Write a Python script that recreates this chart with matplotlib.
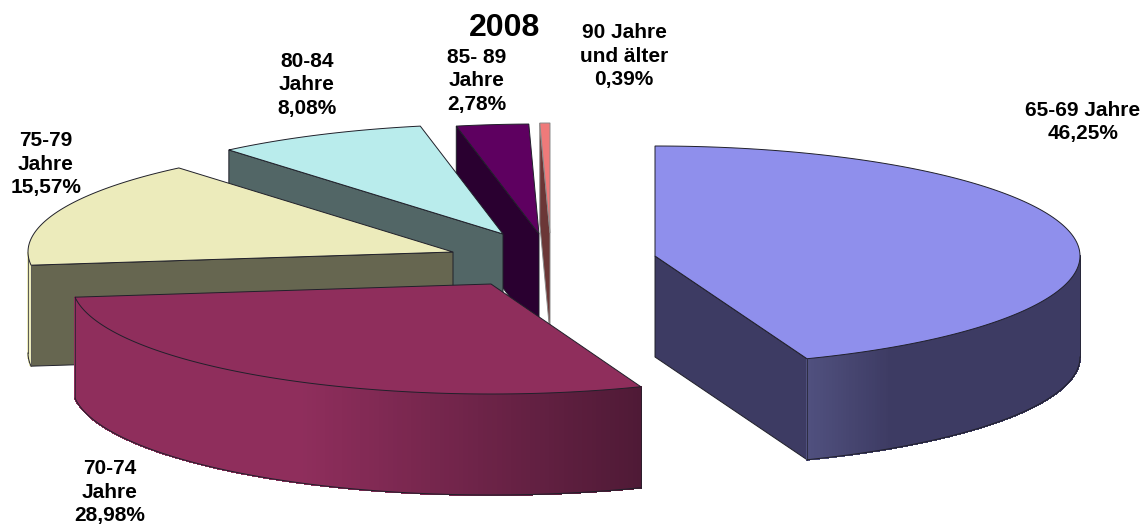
import numpy as np
import matplotlib
matplotlib.use('Agg')
import matplotlib.pyplot as plt
from matplotlib.colors import to_rgb
from matplotlib.patches import Polygon

# data
ages = ['65-69 Jahre', '70-74\nJahre', '75-79\nJahre', '80-84\nJahre', '85- 89\nJahre', '90 Jahre\nund älter']
shares = [46.25, 28.98, 15.57, 8.08, 2.78, 0.39]
year = '2008'

# look of each slice
top_colors = ['#8f8fec', '#8f2e5c', '#ecebbb', '#b9ecec', '#5e0060', '#ef7a7a']
face_colors = ['#3d3b63', '#8f2e5c', '#666650', '#526666', '#2a0030', '#6b3636']
rim_colors = [('#50507e', '#3d3b63'), ('#8f2e5c', '#4f1a36'), ('#ecebbb', '#ecebbb'),
              ('#526666', '#526666'), ('#2a0030', '#2a0030'), ('#6b3636', '#6b3636')]
rim_stops = [(808, 890), (300, 640), (0, 1), (0, 1), (0, 1), (0, 1)]
edge_colors = ['#20202a', '#20202a', '#20202a', '#20202a', '#20202a', '#8a8a8a']
apex_x = [655, 491, 453, 503, 539, 550]
apex_y = [256, 284, 252, 234, 234, 233]
radius_x = [425, 419, 425, 425, 425, 425]
label_x = [1083, 110, 46, 307, 477, 624]
label_y = [122, 492, 164, 85, 81, 56]

ry = 110
depth = 101
tilt = 4.2  # the picture is seen in perspective, angles near the front shrink a bit

angles = np.cumsum([0] + shares) / np.sum(shares) * 360
angles = angles - tilt * np.sin(np.radians(angles / 2)) ** 2

fig = plt.figure(figsize=(11.44, 5.25), dpi=100)
ax = fig.add_axes([0, 0, 1, 1])
ax.set_xlim(0, 1144)
ax.set_ylim(525, 0)
ax.axis('off')
plt.rcParams['font.family'] = ['Liberation Sans', 'DejaVu Sans']


def rim_point(i, t):
    return apex_x[i] + radius_x[i] * np.sin(np.radians(t)), apex_y[i] - ry * np.cos(np.radians(t))


def i_z(i):
    # back to front, blue and maroon last
    return {5: 1, 4: 2, 3: 3, 2: 4, 1: 5, 0: 6}[i]


def draw_slice(i):
    t0, t1 = angles[i], angles[i + 1]
    # inner face, the cut edge that looks towards the viewer
    if t0 > 180 or t1 < 180:
        x, y = rim_point(i, t0 if t0 > 180 else t1)
        pts = [(apex_x[i], apex_y[i]), (x, y), (x, y + depth), (apex_x[i], apex_y[i] + depth)]
        ax.add_patch(Polygon(pts, fc=face_colors[i], ec=edge_colors[i], lw=0.7, zorder=i_z(i)))
    # outer rim, shaded in thin strips
    a, b = max(t0, 90), min(t1, 270)
    if a < b:
        ts = np.linspace(a, b, 160)
        c1, c2 = np.array(to_rgb(rim_colors[i][0])), np.array(to_rgb(rim_colors[i][1]))
        for s0, s1 in zip(ts[:-1], ts[1:]):
            x0, y0 = rim_point(i, s0)
            x1, y1 = rim_point(i, s1)
            f = np.clip(((x0 + x1) / 2 - rim_stops[i][0]) / (rim_stops[i][1] - rim_stops[i][0]), 0, 1)
            col = c1 + (c2 - c1) * f
            ax.add_patch(Polygon([(x0, y0), (x1, y1), (x1, y1 + depth), (x0, y0 + depth)],
                                 fc=col, ec=col, lw=0.8, antialiased=False, zorder=i_z(i)))
        xs, ys = rim_point(i, ts)
        ax.plot(xs, ys + depth, color=edge_colors[i], lw=0.7, zorder=i_z(i) + 0.1)
        for t in (a, b):
            x, y = rim_point(i, t)
            ax.plot([x, x], [y, y + depth], color=edge_colors[i], lw=0.5, zorder=i_z(i) + 0.1)
    # top of the slice
    ts = np.linspace(t0, t1, 200)
    xs, ys = rim_point(i, ts)
    pts = np.column_stack([np.r_[apex_x[i], xs], np.r_[apex_y[i], ys]])
    ax.add_patch(Polygon(pts, fc=top_colors[i], ec=edge_colors[i], lw=0.7, zorder=i_z(i) + 0.2))


for i in range(len(shares)):
    draw_slice(i)

for i in range(len(shares)):
    txt = ages[i] + '\n' + f'{shares[i]:.2f}'.replace('.', ',') + '%'
    ax.text(label_x[i], label_y[i], txt, ha='center', va='center', fontsize=15, fontweight='bold',
            linespacing=1.3, color='black', zorder=10)

ax.text(505, 28, year, ha='center', va='center', fontsize=23, fontweight='bold', color='black', zorder=10)

fig.savefig('out.png', dpi=100, facecolor='white')
